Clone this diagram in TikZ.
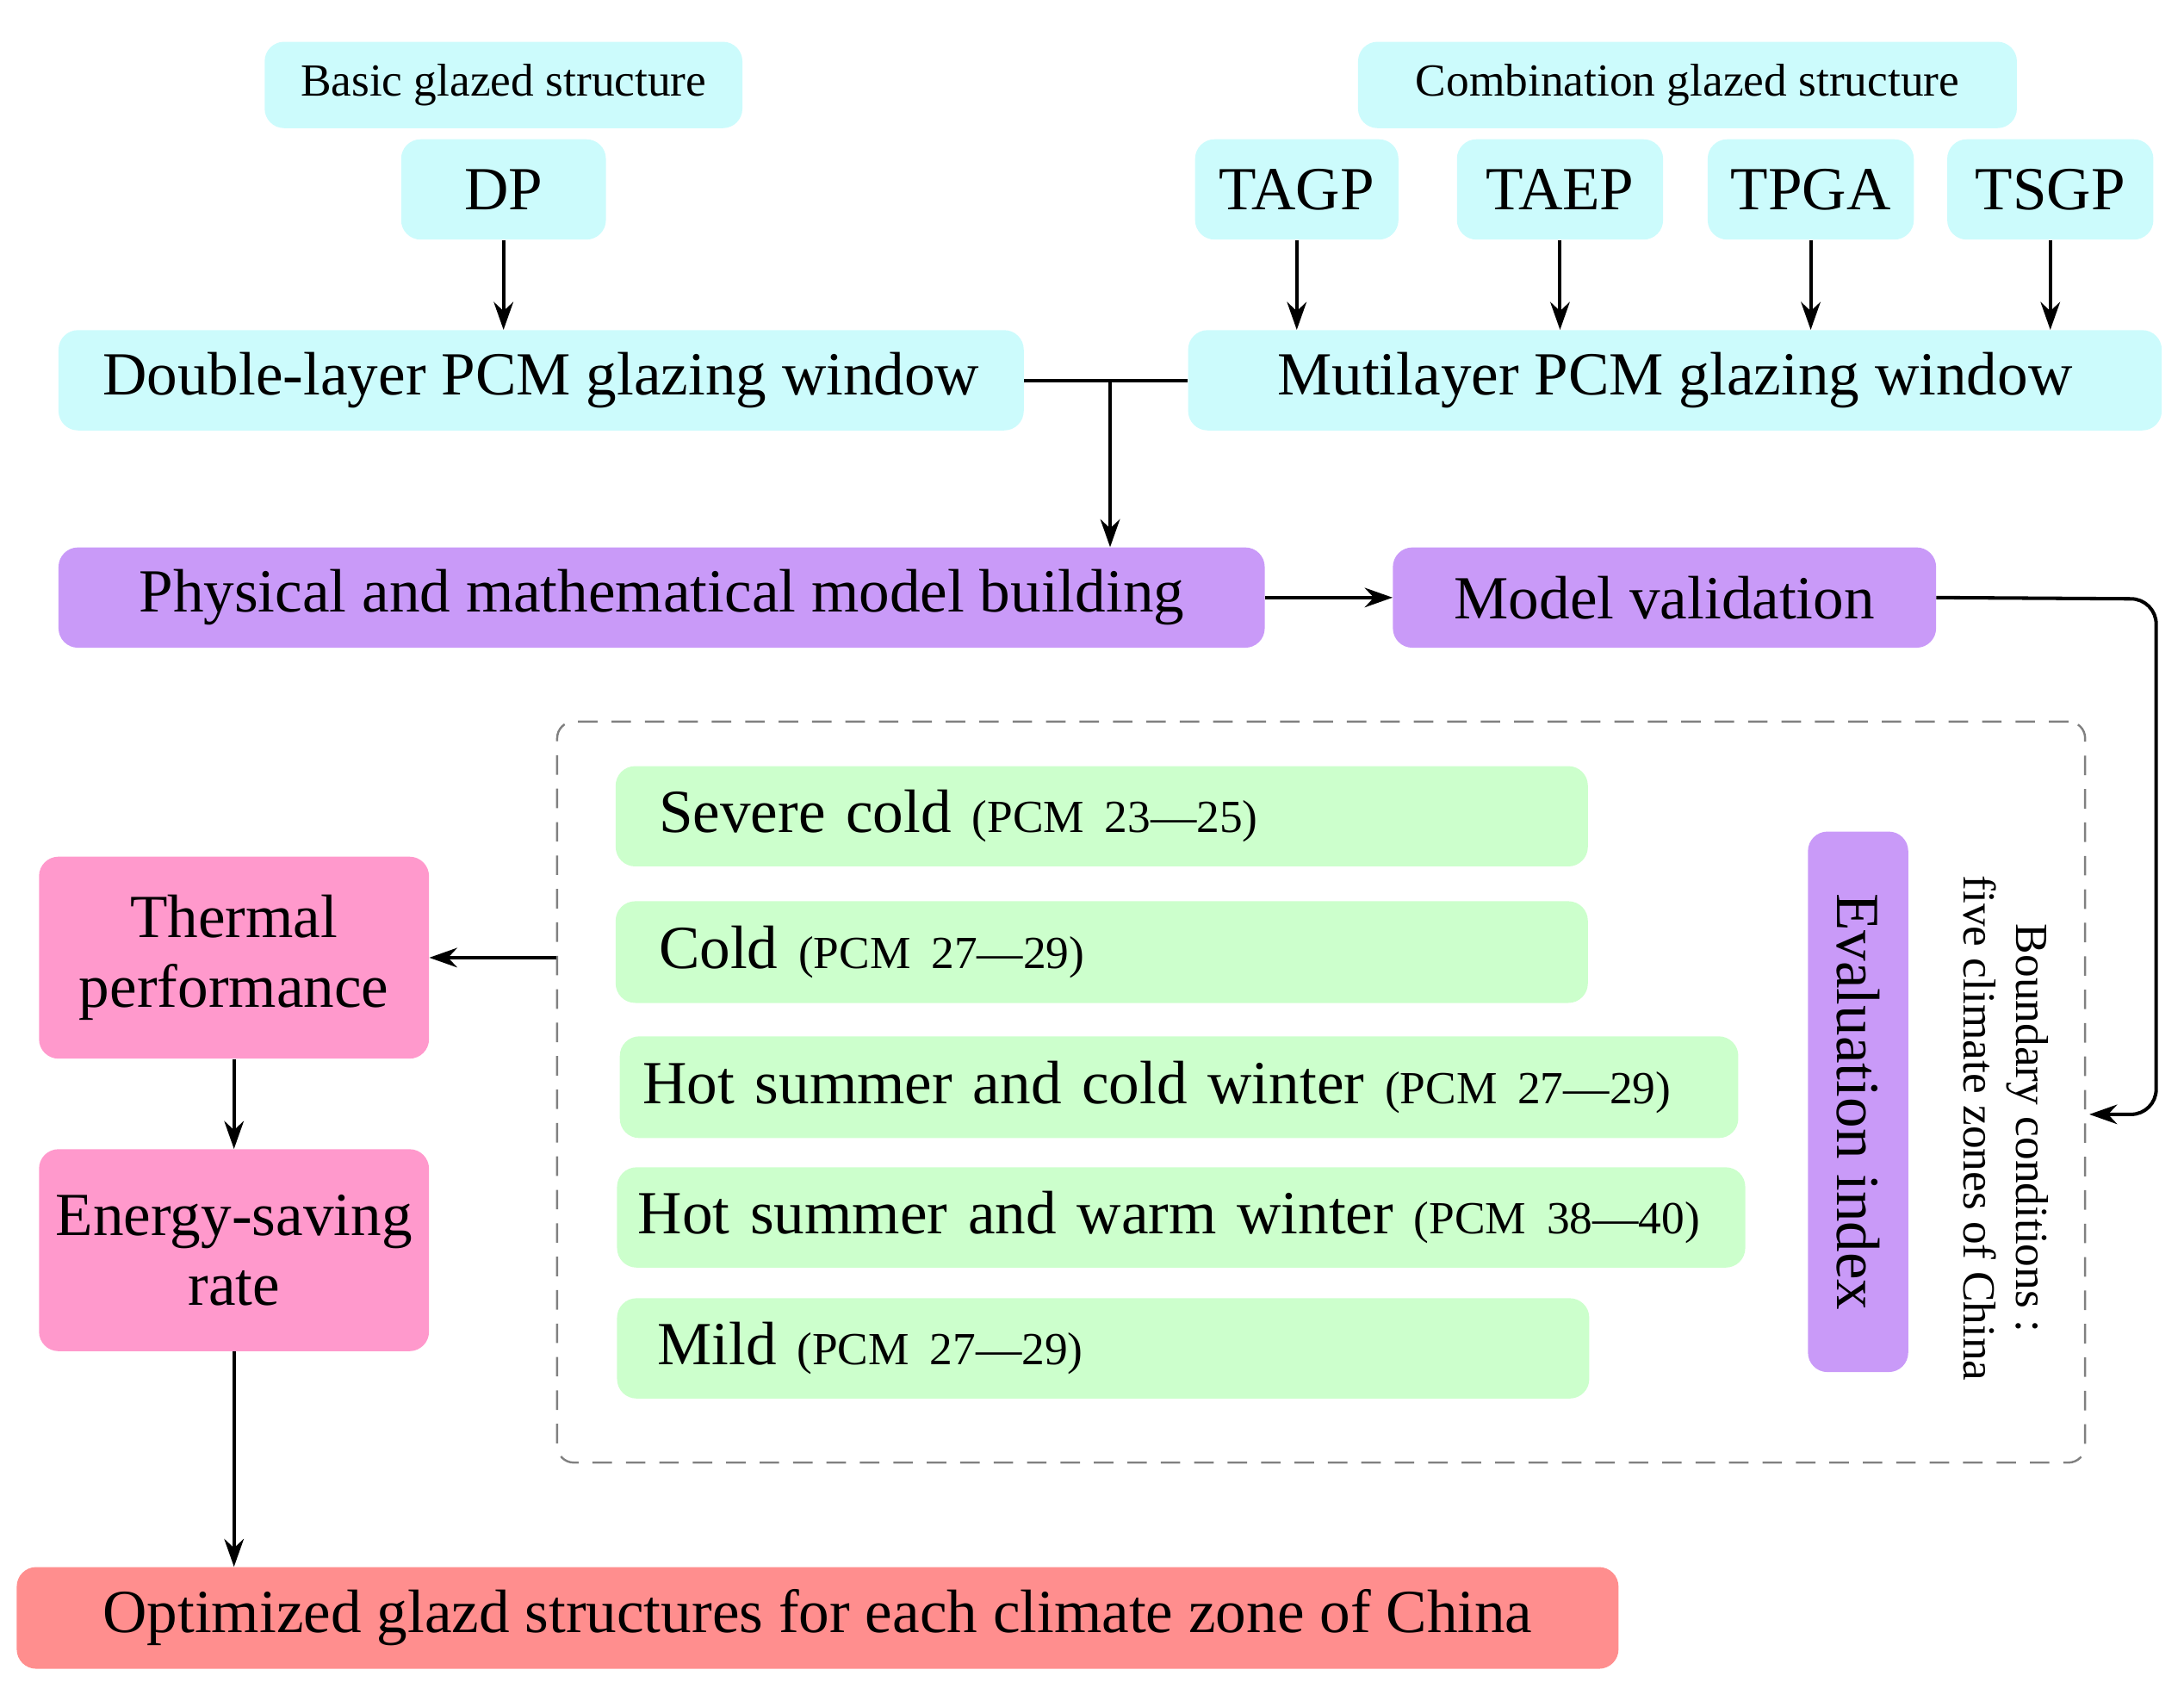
\documentclass[tikz,border=0pt]{standalone}
\usepackage{fontspec}
\setmainfont{Liberation Serif}
\usetikzlibrary{arrows.meta}
\definecolor{cy}{HTML}{CCFBFC}
\definecolor{pu}{HTML}{C99AF8}
\definecolor{gr}{HTML}{CCFFCC}
\definecolor{pk}{HTML}{FF99CC}
\definecolor{sa}{HTML}{FF8E8E}
\begin{document}
\begin{tikzpicture}[x=1pt,y=-1pt,
 box/.style={rounded corners=14pt,inner sep=0pt,align=center},
 big/.style={font=\fontsize{44}{50}\selectfont},
 sm/.style={font=\fontsize{33}{38}\selectfont},
 arr/.style={line width=2.5pt,-{Stealth[length=20pt,width=14pt]}},
 ln/.style={line width=2.5pt}]
\useasboundingbox (0,0) rectangle (1568,1225);
\def\bx#1#2#3#4#5#6#7{\node[box,#7,minimum width=#4-#2,minimum height=#5-#3] (#1) at ({(#2+#4)/2},{(#3+#5)/2}) {#6};}
\bx{basic}{190}{30}{533}{92}{Basic glazed structure}{fill=cy,sm}
\bx{dp}{288}{100}{435}{172}{DP}{fill=cy,big}
\bx{combo}{975}{30}{1448}{92}{Combination glazed structure}{fill=cy,sm}
\bx{tagp}{858}{100}{1004}{172}{TAGP}{fill=cy,big}
\bx{taep}{1046}{100}{1194}{172}{TAEP}{fill=cy,big}
\bx{tpga}{1226}{100}{1374}{172}{TPGA}{fill=cy,big}
\bx{tsgp}{1398}{100}{1546}{172}{TSGP}{fill=cy,big}
\bx{dbl}{42}{237}{735}{309}{Double-layer PCM glazing window}{fill=cy,big}
\bx{mul}{853}{237}{1552}{309}{Mutilayer PCM glazing window}{fill=cy,big}
\bx{phys}{42}{393}{908}{465}{Physical and mathematical model building}{fill=pu,big}
\bx{val}{1000}{393}{1390}{465}{Model validation}{fill=pu,big}
\node[draw=gray,dashed,line width=1.5pt,dash pattern=on 14pt off 10pt,rounded corners=12pt,minimum width=1097,minimum height=532,inner sep=0pt] (dash) at (948.5,784) {};
\tikzset{gtxt/.style={fill=gr,big,text width=#1,align=left}}
\bx{g1}{442}{550}{1140}{622}{\hspace*{12pt}Severe cold {\fontsize{33}{38}\selectfont(PCM 23---25)}}{gtxt=660}
\bx{g2}{442}{647}{1140}{720}{\hspace*{12pt}Cold {\fontsize{33}{38}\selectfont(PCM 27---29)}}{gtxt=660}
\bx{g3}{445}{744}{1248}{817}{\hspace*{10pt}Hot summer and cold winter {\fontsize{33}{38}\selectfont(PCM 27---29)}}{gtxt=790}
\bx{g4}{443}{838}{1253}{910}{\hspace*{10pt}Hot summer and warm winter {\fontsize{33}{38}\selectfont(PCM 38---40)}}{gtxt=800}
\bx{g5}{443}{932}{1141}{1004}{\hspace*{10pt}Mild {\fontsize{33}{38}\selectfont(PCM 27---29)}}{gtxt=660}
\node[box,fill=pu,minimum width=72,minimum height=388] (ev) at (1334,791) {};
\node[big,rotate=-90] (evt) at (ev) {Evaluation index};
\node[sm,rotate=-90,align=center] (bc) at (1440,810) {Boundary conditions :\\five climate zones of China};
\bx{th}{28}{615}{308}{760}{Thermal\\performance}{fill=pk,big}
\bx{en}{28}{825}{308}{970}{Energy-saving\\rate}{fill=pk,big}
\bx{opt}{12}{1125}{1162}{1198}{Optimized glazd structures for each climate zone of China}{fill=sa,big}
\coordinate (m) at (797,273);
\coordinate (bcin) at (1500,800);
\draw[arr] (dp) -- (dp|-dbl.north);
\foreach \n in {tagp,taep,tpga,tsgp} \draw[arr] (\n) -- (\n|-mul.north);
\draw[ln] (dbl.east) -- (mul.west);
\draw[arr] (m) -- (m|-phys.north);
\draw[arr] (phys) -- (val);
\draw[arr,rounded corners=18pt] (val.east) -- (1548,430) -- (1548,800) -- (bcin);
\draw[arr] (dash.west|-th) -- (th.east);
\draw[arr] (th) -- (en);
\draw[arr] (en) -- (en|-opt.north);
\end{tikzpicture}
\end{document}
